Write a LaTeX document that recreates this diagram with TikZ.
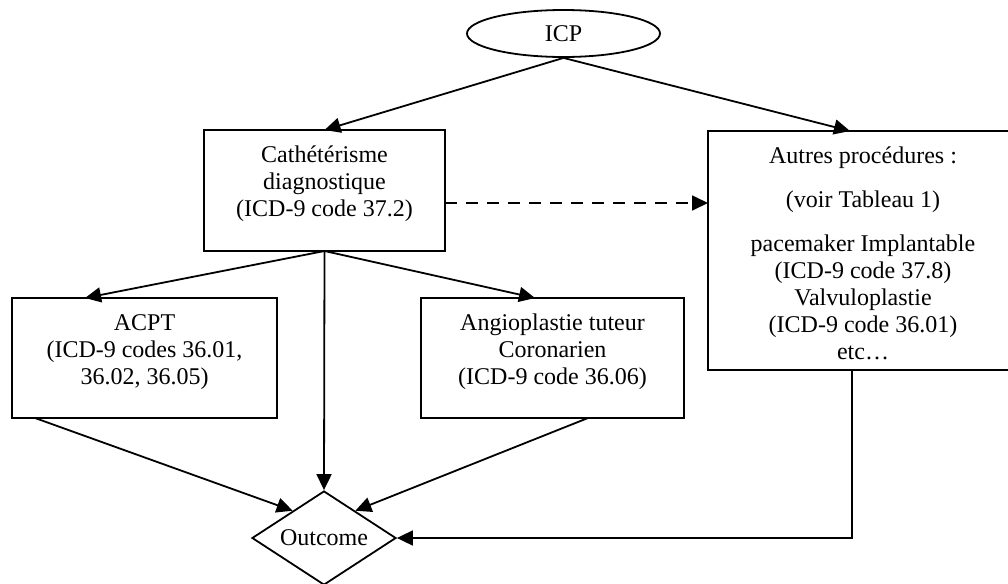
\documentclass[tikz,border=0pt]{standalone}
\usepackage{fontspec}
\setmainfont{Liberation Serif}
\usetikzlibrary{shapes.geometric,arrows.meta,calc}
\newcommand{\bxt}[3]{\parbox[c][#2][t]{#1}{\centering\setlength{\parskip}{8.5pt}\rule{0pt}{16pt}#3}}
\begin{document}
\begin{tikzpicture}[x=0.5pt,y=-0.5pt,
  every node/.style={font=\fontsize{12}{13.5}\selectfont},
  box/.style={draw,line width=0.9pt,inner sep=0pt,outer sep=0pt},
  conn/.style={line width=0.9pt,-{Triangle[length=8pt,width=7.5pt]}},
]
\useasboundingbox (0,0) rectangle (1008,584);
\clip (0,0) rectangle (1008,584);

\node[draw,ellipse,line width=0.9pt,minimum width=96.5pt,minimum height=23.5pt,inner sep=0pt] (icp) at (563.5,33.5) {ICP};

\node[box] (cath) at (324.5,190.5) {\bxt{120.5pt}{60.5pt}{Cathétérisme\\diagnostique\\(ICD-9 code 37.2)}};

\node[box] (autres) at (863,250.5) {\bxt{155pt}{119.5pt}{Autres procédures :\par
(voir Tableau 1)\par
pacemaker Implantable\\(ICD-9 code 37.8)\\Valvuloplastie\\(ICD-9 code 36.01)\\etc…}};

\node[box] (acpt) at (144.5,358) {\bxt{132.5pt}{60pt}{ACPT\\(ICD-9 codes 36.01,\\36.02, 36.05)}};

\node[box] (angio) at (552.5,358) {\bxt{131.5pt}{60pt}{Angioplastie tuteur\\Coronarien\\(ICD-9 code 36.06)}};

\node[draw,diamond,line width=0.9pt,shape aspect=1.53,minimum width=72pt,minimum height=47pt,inner sep=0pt] (outc) at (324,538) {Outcome};

% connectors
\coordinate (autresin) at ($(autres.north west)+(142,0)$);
\coordinate (acptin) at ($(acpt.north west)+(73,0)$);
\coordinate (angioin) at ($(angio.north west)+(114,0)$);
\coordinate (acptout) at ($(acpt.south west)+(23,0)$);
\coordinate (angioout) at ($(angio.south west)+(167,0)$);
\coordinate (autresout) at ($(autres.south west)+(144,0)$);
\coordinate (outl) at ($(outc.west)!0.57!(outc.north)$);
\coordinate (outr) at ($(outc.north)!0.43!(outc.east)$);
\coordinate (dstart) at ($(cath.east)+(0,12.5)$);
\coordinate (dend) at (autres.west |- dstart);

\draw[conn] (icp.south) -- (cath.north);
\draw[conn] (icp.south) -- (autresin);
\draw[conn,dash pattern=on 6pt off 4.5pt] (dstart) -- (dend);
\draw[conn] (cath.south) -- (acptin);
\draw[conn] (cath.south) -- (angioin);
\draw[conn] (cath.south) -- (outc.north);
\draw[conn] (acptout) -- (outl);
\draw[conn] (angioout) -- (outr);
\draw[conn] (autresout) |- (outc.east);
\end{tikzpicture}
\end{document}
